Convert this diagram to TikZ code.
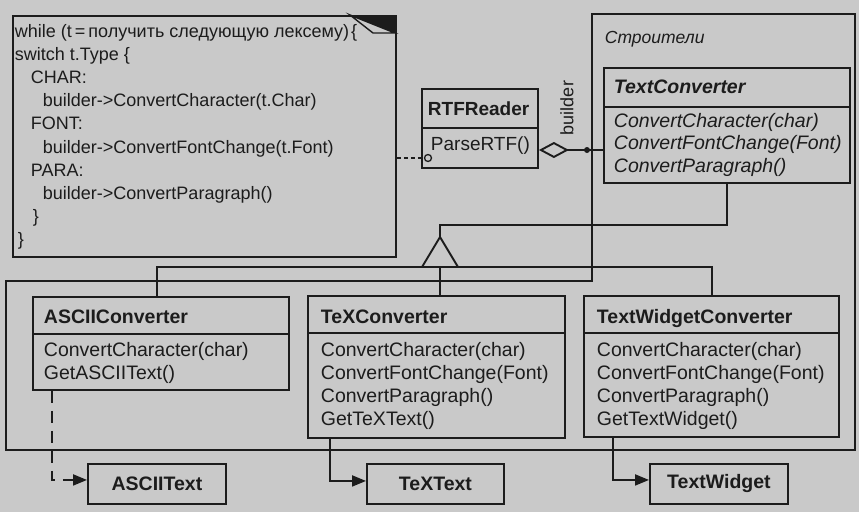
\documentclass[tikz,border=0pt]{standalone}
\usepackage{fontspec}
\setmainfont{Liberation Sans}
\usetikzlibrary{arrows.meta,calc}
\definecolor{bg}{HTML}{C9C9C9}
\definecolor{ink}{HTML}{1C1C1C}
\begin{document}
\begin{tikzpicture}[x=1pt,y=-1pt,
  line width=1.9pt, draw=ink, text=ink,
  every node/.style={inner sep=0pt},
  box/.style={draw, anchor=north west},
  cname/.style={anchor=base west, font=\fontsize{19.5}{23}\selectfont\bfseries},
  meth/.style={anchor=base west, font=\fontsize{19.5}{23}\selectfont},
  notetxt/.style={anchor=base west, font=\fontsize{18}{23}\selectfont},
  smallbox/.style={draw, anchor=north west, minimum width=138, minimum height=40, font=\fontsize{19.5}{23}\selectfont\bfseries},
  deparrow/.style={-{Triangle[length=14pt,width=11pt]}}
]
\fill[bg] (0,0) rectangle (859,512);
\useasboundingbox (0,0) rectangle (859,512);

% group "Строители"
\draw (6,281) -- (592,281) -- (592,14) -- (855,14) -- (855,450) -- (6,450) -- cycle;
\node[anchor=base west, font=\fontsize{17.5}{20}\selectfont\itshape] (grp) at (604,43) {Строители};

% note
\node[box, minimum width=383, minimum height=241] (note) at (12,15) {};
\fill[ink] (350,15) -- (395,15) -- (395,33) -- cycle;
\draw[line width=1.4pt, fill=bg] (350,15) -- (373,33) -- (395,33) -- cycle;
\node[notetxt] (n1) at (14,37) {while (t\hspace{3pt}=\hspace{3pt}получить следующую лексему)\hspace{2pt}\{};
\node[notetxt] (n2) at (14,60.2) {switch t.Type \{};
\node[notetxt] (n3) at (30,83.4) {CHAR:};
\node[notetxt] (n4) at (42,106.6) {builder->ConvertCharacter(t.Char)};
\node[notetxt] (n5) at (30,129.8) {FONT:};
\node[notetxt] (n6) at (42,153) {builder->ConvertFontChange(t.Font)};
\node[notetxt] (n7) at (30,176.2) {PARA:};
\node[notetxt] (n8) at (42,199.4) {builder->ConvertParagraph()};
\node[notetxt] (n9) at (32,222.6) {\}};
\node[notetxt] (n10) at (17,245.8) {\}};

% RTFReader
\node[box, minimum width=116, minimum height=79] (rtf) at (421,88) {};
\draw ($(rtf.north west)+(0,40)$) -- ($(rtf.north east)+(0,40)$);
\node[cname, font=\fontsize{19}{23}\selectfont\bfseries] (rtfn) at (427,115) {RTFReader};
\node[meth, font=\fontsize{19}{23}\selectfont] (rtfm) at (430,150) {ParseRTF()};

% TextConverter
\node[box, minimum width=246, minimum height=115] (tc) at (603,67) {};
\draw ($(tc.north west)+(0,40)$) -- ($(tc.north east)+(0,40)$);
\node[cname, font=\fontsize{19.5}{23}\selectfont\bfseries\itshape] (tcn) at (613,93) {TextConverter};
\node[meth, font=\fontsize{19.5}{23}\selectfont\itshape] (tcm1) at (613,127) {ConvertCharacter(char)};
\node[meth, font=\fontsize{19.5}{23}\selectfont\itshape] (tcm2) at (613,149.5) {ConvertFontChange(Font)};
\node[meth, font=\fontsize{19.5}{23}\selectfont\itshape] (tcm3) at (613,172) {ConvertParagraph()};

% ASCIIConverter
\node[box, minimum width=256, minimum height=93] (ascii) at (32,296) {};
\draw ($(ascii.north west)+(0,38)$) -- ($(ascii.north east)+(0,38)$);
\node[cname] (asciin) at (43,323) {ASCIIConverter};
\node[meth] (asciim1) at (43,356) {ConvertCharacter(char)};
\node[meth] (asciim2) at (43,379) {GetASCIIText()};

% TeXConverter
\node[box, minimum width=257, minimum height=142] (tex) at (307,295) {};
\draw ($(tex.north west)+(0,38)$) -- ($(tex.north east)+(0,38)$);
\node[cname] (texn) at (320,323) {TeXConverter};
\node[meth] (texm1) at (320,356) {ConvertCharacter(char)};
\node[meth] (texm2) at (320,379) {ConvertFontChange(Font)};
\node[meth] (texm3) at (320,402) {ConvertParagraph()};
\node[meth] (texm4) at (320,425) {GetTeXText()};

% TextWidgetConverter
\node[box, minimum width=255, minimum height=141] (tw) at (583,295) {};
\draw ($(tw.north west)+(0,38)$) -- ($(tw.north east)+(0,38)$);
\node[cname] (twn) at (596,323) {TextWidgetConverter};
\node[meth] (twm1) at (596,356) {ConvertCharacter(char)};
\node[meth] (twm2) at (596,379) {ConvertFontChange(Font)};
\node[meth] (twm3) at (596,402) {ConvertParagraph()};
\node[meth] (twm4) at (596,425) {GetTextWidget()};

% products
\node[smallbox] (asciitext) at (87,463) {ASCIIText};
\node[smallbox, minimum width=137] (textext) at (366,463) {TeXText};
\node[smallbox] (twidget) at (649,463) {TextWidget};

% note link
\node[draw, circle, minimum size=7, line width=1.3pt, fill=bg] (ncirc) at (428,158) {};
\draw[dash pattern=on 4pt off 3pt, line width=1.6pt] (note.east |- ncirc) -- (ncirc.west);

% aggregation builder
\coordinate (agg) at ($(rtf.north east)+(0,62)$);
\draw[{Diamond[open,length=30pt,width=16pt]}-] (agg) -- (tc.west |- agg);
\fill[ink] (587,150) circle (3);
\node[rotate=90, font=\fontsize{18}{20}\selectfont] (bl) at (567,108) {builder};

% generalization
\coordinate (gbar) at (440,267);
\coordinate (apex) at ($(gbar)+(0,-30)$);
\draw (apex) -- ++(0,-12) -| (tc.south);
\draw ($(gbar)+(-18,0)$) -- (apex) -- ($(gbar)+(18,0)$) -- cycle;
\coordinate (adrop) at (157,267);
\coordinate (wdrop) at (712,267);
\draw (adrop |- ascii.north) -- (adrop) -- (wdrop) -- (wdrop |- tw.north);
\draw (gbar) -- (gbar |- tex.north);

% instantiation
\draw[deparrow, dash pattern=on 12pt off 8pt] ($(ascii.south west)+(20,0)$) |- ($(asciitext.west)+(0,-4)$);
\draw[deparrow] ($(tex.south west)+(23,0)$) |- ($(textext.west)+(0,-3)$);
\draw[deparrow] ($(tw.south west)+(30,0)$) |- ($(twidget.west)+(0,-4)$);
\end{tikzpicture}
\end{document}
